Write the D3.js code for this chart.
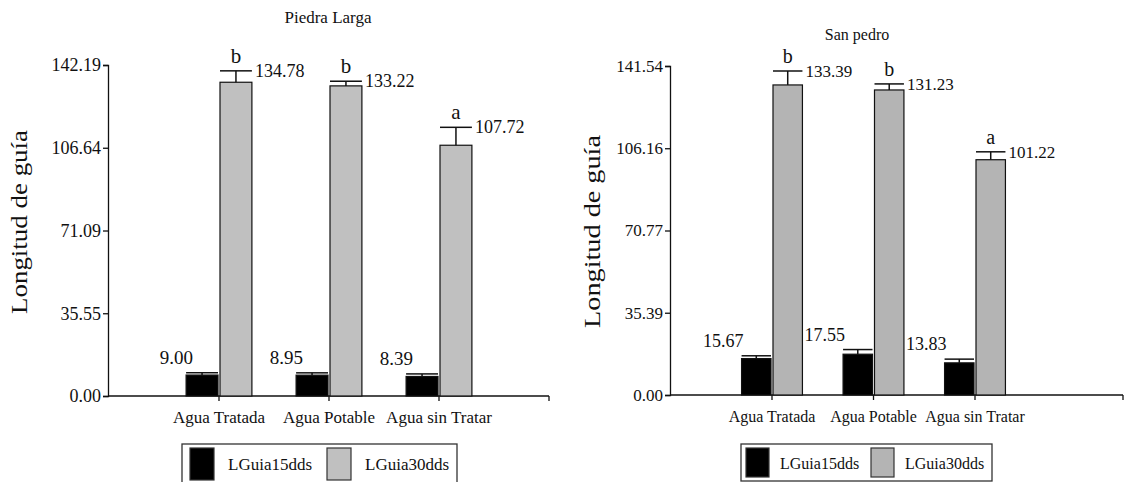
<!DOCTYPE html>
<html lang="es">
<head>
<meta charset="utf-8">
<title>Longitud de guía</title>
<script src="https://cdn.jsdelivr.net/npm/d3@7"></script>
<style>
  body { margin: 0; background: #fff; }
  svg { display: block; }
  text { font-family: "Liberation Serif", "Times New Roman", serif; fill: #111; }
</style>
</head>
<body>
<div id="chart"></div>
<script>
// categorias y series
const categories = ["Agua Tratada", "Agua Potable", "Agua sin Tratar"];
const series = ["LGuia15dds", "LGuia30dds"];

// Piedra Larga
const plMean15 = [9.00, 8.95, 8.39];
const plErr15 = [1.0, 1.0, 1.1];
const plMean30 = [134.78, 133.22, 107.72];
const plErr30 = [4.9, 2.0, 7.7];
const plLetters = ["b", "b", "a"];
const plTicks = [0, 35.55, 71.09, 106.64, 142.19];

// San pedro
const spMean15 = [15.67, 17.55, 13.83];
const spErr15 = [1.2, 2.0, 1.6];
const spMean30 = [133.39, 131.23, 101.22];
const spErr30 = [6.0, 2.6, 3.4];
const spLetters = ["b", "b", "a"];
const spTicks = [0, 35.39, 70.77, 106.16, 141.54];

const W = 1130, H = 482;
const svg = d3.select("#chart").append("svg")
    .attr("width", W).attr("height", H);

function label(g, x, y, str, size, anchor) {
    return g.append("text")
        .attr("x", x).attr("y", y)
        .attr("font-size", size)
        .attr("text-anchor", anchor)
        .text(str);
}

function panel(cfg) {
    const g = svg.append("g");
    const y = d3.scaleLinear().domain([0, cfg.ticks[4]]).range([cfg.y0, cfg.y1]);
    const x = d3.scalePoint().domain(categories).range(cfg.xr);
    const step = x.step();
    const bw = step * 0.29;

    // eje y
    const ay = g.append("g")
        .attr("transform", `translate(${cfg.left},0)`)
        .call(d3.axisLeft(y).tickValues(cfg.ticks).tickFormat(d3.format(".2f")).tickSizeOuter(0).tickSize(5));
    ay.select(".domain").attr("stroke", "#111").attr("stroke-width", 1.3);
    ay.selectAll(".tick line").attr("stroke", "#111").attr("stroke-width", 1.3);
    ay.selectAll(".tick text")
        .attr("font-family", "Liberation Serif, serif")
        .attr("font-size", cfg.fs).attr("fill", "#111")
        .attr("x", -7);

    // eje x
    g.append("line")
        .attr("x1", cfg.left).attr("x2", cfg.right)
        .attr("y1", cfg.y0).attr("y2", cfg.y0)
        .attr("stroke", "#111").attr("stroke-width", 1.3);
    g.selectAll(".xt").data(categories.map(c => x(c)).concat([cfg.right]))
        .enter().append("line")
        .attr("x1", d => d).attr("x2", d => d)
        .attr("y1", cfg.y0).attr("y2", cfg.y0 + 5)
        .attr("stroke", "#111").attr("stroke-width", 1.3);
    categories.forEach(c => label(g, x(c), cfg.y0 + 27, c, cfg.catFs, "middle"));

    // barras
    const rows = categories.map((c, i) => ({
        c: c, m15: cfg.m15[i], e15: cfg.e15[i], m30: cfg.m30[i], e30: cfg.e30[i], let: cfg.letters[i]
    }));
    rows.forEach(r => {
        const cx = x(r.c);
        const bars = [
            { x0: cx - 1 - bw, v: r.m15, e: r.e15, fill: "#000" },
            { x0: cx + 1, v: r.m30, e: r.e30, fill: cfg.gray }
        ];
        bars.forEach((b, j) => {
            const top = y(b.v), cap = y(b.v + b.e);
            g.append("rect")
                .attr("x", b.x0).attr("y", top)
                .attr("width", bw).attr("height", cfg.y0 - top)
                .attr("fill", b.fill).attr("stroke", "#111").attr("stroke-width", 1.2);
            g.append("line")
                .attr("x1", b.x0 + bw / 2).attr("x2", b.x0 + bw / 2)
                .attr("y1", top).attr("y2", cap)
                .attr("stroke", "#111").attr("stroke-width", 1.5);
            g.append("line")
                .attr("x1", b.x0).attr("x2", b.x0 + bw)
                .attr("y1", cap).attr("y2", cap)
                .attr("stroke", "#111").attr("stroke-width", 1.5);
            if (j === 0) {
                label(g, b.x0 + cfg.blackOff, cap - 9, b.v.toFixed(2), cfg.fs + 1, "end");
            } else {
                label(g, b.x0 + bw + 3, cap + 6, b.v.toFixed(2), cfg.fs, "start");
                label(g, b.x0 + bw / 2, cap - 8, r.let, cfg.fs + 3, "middle");
            }
        });
    });

    // titulos
    label(g, cfg.titleX, cfg.titleY, cfg.title, cfg.fs - 1, "middle");
    g.append("text")
        .attr("transform", `translate(${cfg.ytX},${(cfg.ytTop + cfg.ytBot) / 2}) rotate(-90)`)
        .attr("font-size", 23)
        .attr("text-anchor", "middle")
        .attr("textLength", cfg.ytBot - cfg.ytTop)
        .attr("lengthAdjust", "spacingAndGlyphs")
        .text("Longitud de guía");

    // leyenda
    const L = cfg.leg;
    g.append("rect")
        .attr("x", L.x).attr("y", L.y).attr("width", L.w).attr("height", L.h)
        .attr("fill", "none").attr("stroke", "#333").attr("stroke-width", 1.3);
    series.forEach((s, i) => {
        const sxp = L.x + L.pad + i * L.item;
        g.append("rect")
            .attr("x", sxp).attr("y", L.y + 4).attr("width", L.sw).attr("height", L.h - 8)
            .attr("fill", i === 0 ? "#000" : cfg.gray)
            .attr("stroke", "#333").attr("stroke-width", 1.2);
        label(g, sxp + L.txt, L.y + L.h / 2 + 6, s, cfg.catFs, "start");
    });
}

panel({
    title: "Piedra Larga", titleX: 328, titleY: 23,
    ticks: plTicks, m15: plMean15, e15: plErr15, m30: plMean30, e30: plErr30, letters: plLetters,
    left: 108, right: 549, xr: [219, 439], y0: 396, y1: 65,
    fs: 18, catFs: 17, gray: "#c0c0c0", blackOff: 7,
    ytX: 27, ytTop: 130, ytBot: 314,
    leg: { x: 182, y: 444, w: 275, h: 40, pad: 8, item: 137, sw: 24, txt: 38 }
});

panel({
    title: "San pedro", titleX: 857, titleY: 40,
    ticks: spTicks, m15: spMean15, e15: spErr15, m30: spMean30, e30: spErr30, letters: spLetters,
    left: 670, right: 1123, xr: [772, 975], y0: 395, y1: 66,
    fs: 17, catFs: 16, gray: "#b4b4b4", blackOff: 2,
    ytX: 600, ytTop: 135, ytBot: 328,
    leg: { x: 741, y: 444, w: 251, h: 37, pad: 5, item: 125, sw: 23, txt: 34 }
});
</script>
</body>
</html>
